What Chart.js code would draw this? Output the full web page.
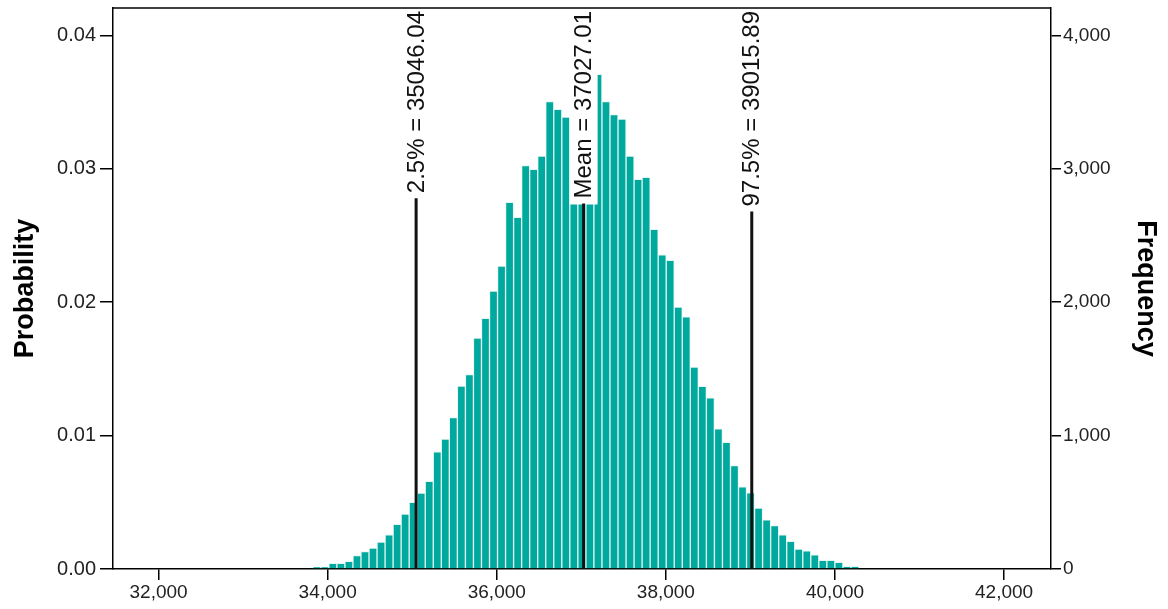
<!DOCTYPE html>
<html>
<head>
<meta charset="utf-8">
<title>Bootstrap distribution</title>
<script src="https://cdn.jsdelivr.net/npm/chart.js@4.4.1/dist/chart.umd.min.js"></script>
<style>
  html, body { margin: 0; padding: 0; background: #ffffff; }
  #wrap { width: 1168px; height: 609px; }
</style>
</head>
<body>
<div id="wrap"><canvas id="hist" width="1168" height="609"></canvas></div>
<script>
// Histogram bin edges (68 bins of width 95)
const binEdges = [
  33824, 33919, 34014, 34109, 34204, 34299, 34394, 34489, 34584, 34679,
  34774, 34869, 34964, 35059, 35154, 35249, 35344, 35439, 35534, 35629,
  35724, 35819, 35914, 36009, 36104, 36199, 36294, 36389, 36484, 36579,
  36674, 36769, 36864, 36959, 37054, 37149, 37244, 37339, 37434, 37529,
  37624, 37719, 37814, 37909, 38004, 38099, 38194, 38289, 38384, 38479,
  38574, 38669, 38764, 38859, 38954, 39049, 39144, 39239, 39334, 39429,
  39524, 39619, 39714, 39809, 39904, 39999, 40094, 40189, 40284
];

// Count of resamples falling in each bin
const frequency = [
  15, 15, 42, 42, 57, 100, 130, 157, 202, 257,
  335, 412, 500, 569, 657, 879, 974, 1136, 1371, 1457,
  1732, 1879, 2084, 2271, 2749, 2636, 3024, 2996, 3096, 3504,
  3446, 3389, 3480, 3570, 3620, 3709, 3504, 3406, 3373, 3096,
  2921, 2936, 2546, 2356, 2314, 1963, 1891, 1514, 1370, 1284,
  1050, 950, 775, 616, 571, 456, 368, 325, 257, 207,
  150, 137, 107, 65, 65, 50, 20, 20
];

// Total resamples: probability axis = frequency / totalSamples
const totalSamples = 100000;

// Axis ticks
const xTickValues = [32000, 34000, 36000, 38000, 40000, 42000];
const probTickValues = [0.00, 0.01, 0.02, 0.03, 0.04];
const freqTickValues = [0, 1000, 2000, 3000, 4000];

// Reference markers: percentiles and mean
const refNames = ['2.5%', 'Mean', '97.5%'];
const refValues = [35046.04, 37027.01, 39015.89];

const FONT = '"Liberation Sans", Arial, Helvetica, sans-serif';
const xMin = 31461, xMax = 42555;
const freqMax = 4206;

const barData = frequency.map((f, i) => ({ x: (binEdges[i] + binEdges[i + 1]) / 2, y: f }));

const frameAndMarkers = {
  id: 'frameAndMarkers',
  afterDatasetsDraw(chart) {
    const { ctx, chartArea, scales } = chart;
    ctx.save();
    // top edge of the plot frame
    ctx.strokeStyle = '#000';
    ctx.lineWidth = 1.5;
    ctx.beginPath();
    ctx.moveTo(chartArea.left, chartArea.top);
    ctx.lineTo(chartArea.right, chartArea.top);
    ctx.stroke();

    ctx.font = '24px ' + FONT;
    refValues.forEach((v, i) => {
      const x = scales.x.getPixelForValue(v);
      const text = refNames[i] + ' = ' + v.toFixed(2);
      const w = ctx.measureText(text).width;
      const textTop = chartArea.top + 3;
      const textEnd = textTop + w;
      // label box
      ctx.fillStyle = '#ffffff';
      ctx.fillRect(x - 14, chartArea.top + 1, 28, w + 8);
      // vertical marker line
      ctx.strokeStyle = '#111';
      ctx.lineWidth = 3;
      ctx.beginPath();
      ctx.moveTo(x, textEnd + 5);
      ctx.lineTo(x, chartArea.bottom);
      ctx.stroke();
      // rotated label text
      ctx.save();
      ctx.translate(x, textTop);
      ctx.rotate(-Math.PI / 2);
      ctx.fillStyle = '#111';
      ctx.textAlign = 'right';
      ctx.textBaseline = 'middle';
      ctx.fillText(text, 0, 1);
      ctx.restore();
    });
    ctx.restore();
  }
};

const axisCommon = {
  grid: { display: true, drawOnChartArea: false, drawTicks: true, color: '#000', lineWidth: 1.5 },
  border: { display: true, color: '#000', width: 1.5 }
};

// Fixed axis thickness, no extra room reserved for overhanging end labels
function fixVertical(width) {
  return s => { s.width = width; s.paddingTop = 0; s.paddingBottom = 0; };
}

new Chart(document.getElementById('hist'), {
  type: 'bar',
  data: {
    datasets: [{
      data: barData,
      xAxisID: 'x',
      yAxisID: 'yF',
      backgroundColor: '#00a99d',
      borderColor: '#e4f6f3',
      borderWidth: 1,
      borderSkipped: 'start',
      barPercentage: 1.0,
      categoryPercentage: 1.0
    }]
  },
  options: {
    responsive: false,
    animation: false,
    devicePixelRatio: 1,
    layout: { padding: { top: 8, left: 0, right: 0, bottom: 0 } },
    plugins: { legend: { display: false }, tooltip: { enabled: false } },
    scales: {
      x: {
        type: 'linear',
        position: 'bottom',
        min: xMin,
        max: xMax,
        offset: false,
        grid: Object.assign({}, axisCommon.grid, { tickLength: 11, offset: false }),
        border: axisCommon.border,
        ticks: {
          color: '#222',
          font: { family: FONT, size: 19 },
          padding: 1,
          maxRotation: 0,
          autoSkip: false,
          callback: v => v.toLocaleString('en-US')
        },
        afterBuildTicks: s => { s.ticks = xTickValues.map(v => ({ value: v })); },
        afterFit: s => { s.height = 40; s.paddingLeft = 0; s.paddingRight = 0; }
      },
      yP: {
        type: 'linear',
        position: 'left',
        min: 0,
        max: freqMax / totalSamples,
        grid: Object.assign({}, axisCommon.grid, { tickLength: 13 }),
        border: axisCommon.border,
        ticks: {
          color: '#222',
          font: { family: FONT, size: 20 },
          padding: 4,
          callback: v => Number(v).toFixed(2)
        },
        title: {
          display: true,
          text: 'Probability',
          color: '#000',
          font: { family: FONT, size: 27, weight: 'bold' },
          padding: { top: 9, bottom: 0 }
        },
        afterBuildTicks: s => { s.ticks = probTickValues.map(v => ({ value: v })); },
        afterFit: fixVertical(113)
      },
      yF: {
        type: 'linear',
        position: 'right',
        min: 0,
        max: freqMax,
        grid: Object.assign({}, axisCommon.grid, { tickLength: 10 }),
        border: axisCommon.border,
        ticks: {
          color: '#222',
          font: { family: FONT, size: 19 },
          padding: 2,
          callback: v => Number(v).toLocaleString('en-US')
        },
        title: {
          display: true,
          text: 'Frequency',
          color: '#000',
          font: { family: FONT, size: 27, weight: 'bold' },
          padding: { top: 6, bottom: 0 }
        },
        afterBuildTicks: s => { s.ticks = freqTickValues.map(v => ({ value: v })); },
        afterFit: fixVertical(117)
      }
    }
  },
  plugins: [frameAndMarkers]
});
</script>
</body>
</html>
